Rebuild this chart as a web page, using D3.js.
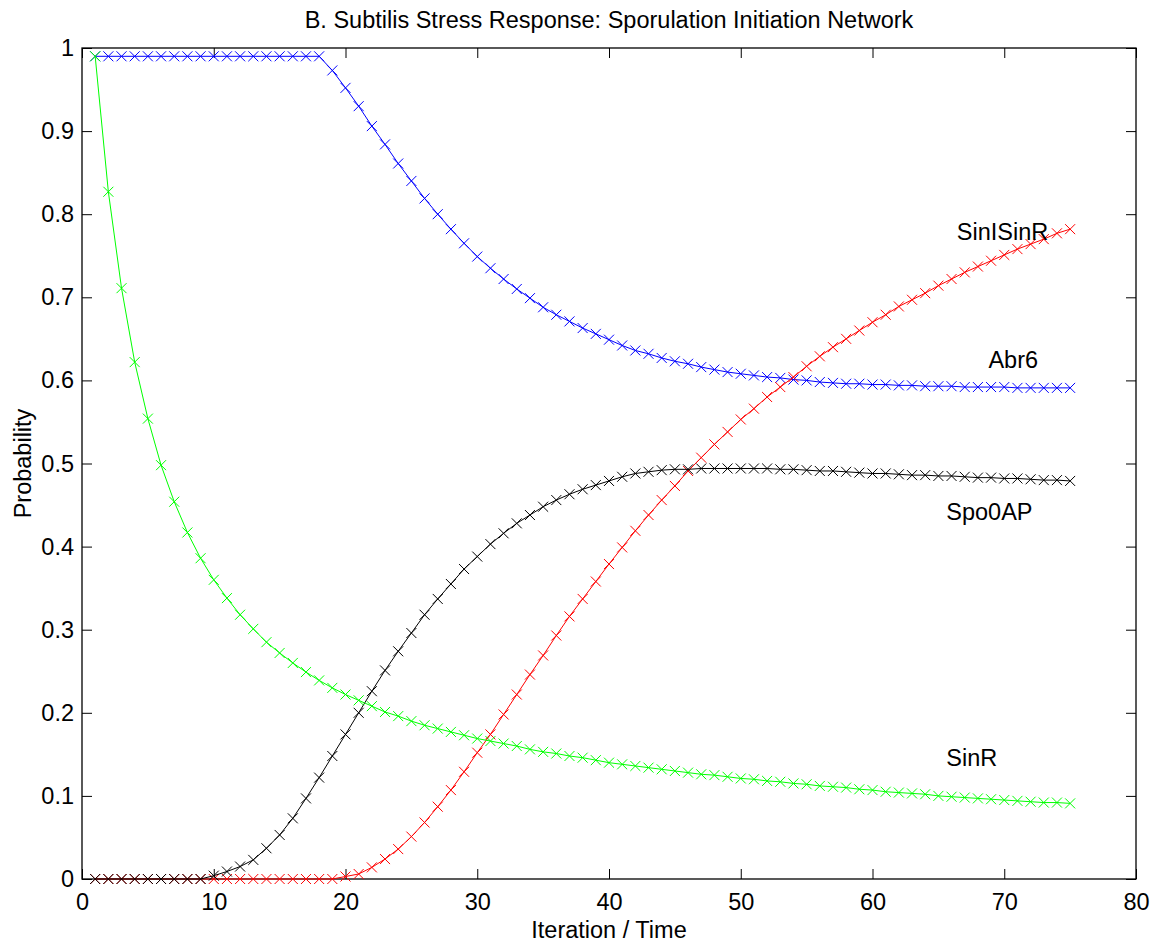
<!DOCTYPE html>
<html>
<head>
<meta charset="utf-8">
<script src="https://cdn.jsdelivr.net/npm/d3@7"></script>
<style>
  body { margin: 0; background: #fff; }
  svg text { font-family: Arial, "Liberation Sans", Helvetica, sans-serif; fill: #000; }
</style>
</head>
<body>
<div id="chart"></div>
<script>
// iterations 1..75
const iterations = d3.range(1, 76);

const abr6 = [
  0.99, 0.99, 0.99, 0.99, 0.99, 0.99, 0.99, 0.99, 0.99, 0.99,
  0.99, 0.99, 0.99, 0.99, 0.99, 0.99, 0.99, 0.99, 0.973, 0.952,
  0.930, 0.906, 0.884, 0.861, 0.840, 0.819, 0.800, 0.782, 0.765, 0.749,
  0.735, 0.722, 0.710, 0.699, 0.688, 0.679, 0.671, 0.663, 0.656, 0.649,
  0.642, 0.636, 0.632, 0.627, 0.623, 0.620, 0.616, 0.613, 0.610, 0.608,
  0.606, 0.604, 0.603, 0.601, 0.600, 0.598, 0.597, 0.596, 0.596, 0.595,
  0.595, 0.594, 0.594, 0.593, 0.593, 0.593, 0.592, 0.592, 0.592, 0.592,
  0.591, 0.591, 0.591, 0.591, 0.591
];

const sinISinR = [
  0, 0, 0, 0, 0, 0, 0, 0, 0, 0,
  0, 0, 0, 0, 0, 0, 0, 0, 0, 0.003,
  0.006, 0.014, 0.024, 0.036, 0.051, 0.068, 0.087, 0.107, 0.129, 0.152,
  0.174, 0.198, 0.222, 0.246, 0.269, 0.293, 0.316, 0.337, 0.358, 0.379,
  0.399, 0.419, 0.438, 0.456, 0.473, 0.491, 0.507, 0.523, 0.538, 0.553,
  0.566, 0.580, 0.592, 0.604, 0.617, 0.629, 0.640, 0.650, 0.660, 0.670,
  0.679, 0.689, 0.697, 0.705, 0.714, 0.722, 0.730, 0.737, 0.744, 0.751,
  0.758, 0.764, 0.770, 0.777, 0.782
];

const spo0AP = [
  0, 0, 0, 0, 0, 0, 0, 0, 0, 0.004,
  0.009, 0.015, 0.023, 0.037, 0.053, 0.073, 0.097, 0.122, 0.148, 0.174,
  0.200, 0.226, 0.251, 0.274, 0.296, 0.318, 0.337, 0.355, 0.373, 0.388,
  0.403, 0.416, 0.428, 0.438, 0.448, 0.456, 0.463, 0.469, 0.474, 0.479,
  0.484, 0.488, 0.490, 0.492, 0.493, 0.493, 0.494, 0.494, 0.494, 0.494,
  0.494, 0.494, 0.493, 0.493, 0.492, 0.491, 0.491, 0.490, 0.489, 0.488,
  0.488, 0.487, 0.486, 0.486, 0.485, 0.485, 0.484, 0.483, 0.483, 0.482,
  0.482, 0.481, 0.480, 0.480, 0.479
];

const sinR = [
  0.99, 0.827, 0.711, 0.622, 0.554, 0.498, 0.454, 0.417, 0.386, 0.360,
  0.338, 0.318, 0.301, 0.285, 0.272, 0.260, 0.249, 0.239, 0.230, 0.222,
  0.215, 0.208, 0.201, 0.196, 0.190, 0.185, 0.181, 0.177, 0.173, 0.169,
  0.166, 0.163, 0.160, 0.156, 0.153, 0.151, 0.148, 0.146, 0.143, 0.140,
  0.138, 0.136, 0.134, 0.132, 0.130, 0.128, 0.126, 0.125, 0.123, 0.121,
  0.120, 0.118, 0.117, 0.115, 0.114, 0.112, 0.111, 0.110, 0.108, 0.107,
  0.105, 0.104, 0.103, 0.102, 0.100, 0.099, 0.098, 0.097, 0.096, 0.095,
  0.094, 0.093, 0.092, 0.092, 0.091
];

const xTicks = [0, 10, 20, 30, 40, 50, 60, 70, 80];
const yTicks = [0, 0.1, 0.2, 0.3, 0.4, 0.5, 0.6, 0.7, 0.8, 0.9, 1];

// drawing order: first drawn ends up underneath
const series = [
  { name: 'Abr6', values: abr6, color: '#0000ff' },
  { name: 'SinISinR', values: sinISinR, color: '#ff0000' },
  { name: 'Spo0AP', values: spo0AP, color: '#000000' },
  { name: 'SinR', values: sinR, color: '#00ff00' }
];

// text labels placed in data coordinates
const labelNames = ['SinISinR', 'Abr6', 'Spo0AP', 'SinR'];
const labelX = [66.4, 68.8, 65.6, 65.6];
const labelY = [0.769, 0.615, 0.432, 0.136];

const width = 1155, height = 943;
const margin = { top: 48, right: 19, bottom: 64, left: 82 };
const innerW = width - margin.left - margin.right;
const innerH = height - margin.top - margin.bottom;
const fontSize = 23.5;
const tickLen = 10;

const svg = d3.select('#chart').append('svg')
  .attr('width', width)
  .attr('height', height);

const g = svg.append('g')
  .attr('transform', `translate(${margin.left},${margin.top})`);

const x = d3.scaleLinear().domain([0, 80]).range([0, innerW]);
const y = d3.scaleLinear().domain([0, 1]).range([innerH, 0]);

// axes: ticks point inward on all four sides, like a boxed plot
const fmtY = d => d === 0 || d === 1 ? String(d) : d3.format('.1f')(d);

const xBottom = g.append('g')
  .attr('transform', `translate(0,${innerH})`)
  .call(d3.axisBottom(x).tickValues(xTicks).tickSizeInner(-tickLen).tickSizeOuter(0).tickPadding(14));
const xTop = g.append('g')
  .call(d3.axisTop(x).tickValues(xTicks).tickSizeInner(-tickLen).tickSizeOuter(0).tickFormat(''));
const yLeft = g.append('g')
  .call(d3.axisLeft(y).tickValues(yTicks).tickSizeInner(-tickLen).tickSizeOuter(0).tickPadding(8).tickFormat(fmtY));
const yRight = g.append('g')
  .attr('transform', `translate(${innerW},0)`)
  .call(d3.axisRight(y).tickValues(yTicks).tickSizeInner(-tickLen).tickSizeOuter(0).tickFormat(''));

[xBottom, xTop, yLeft, yRight].forEach(ax => {
  ax.select('.domain').remove();
  ax.selectAll('line').attr('stroke', '#000').attr('stroke-width', 1);
  ax.selectAll('text')
    .style('font-size', fontSize + 'px')
    .attr('fill', '#000');
});

// box
g.append('rect')
  .attr('x', 0).attr('y', 0)
  .attr('width', innerW).attr('height', innerH)
  .attr('fill', 'none')
  .attr('stroke', '#000')
  .attr('stroke-width', 1.3);

// lines and x markers
const line = d3.line()
  .x((d, i) => x(iterations[i]))
  .y(d => y(d));

const m = 5;
series.forEach(s => {
  const sg = g.append('g').attr('class', 'series');
  sg.append('path')
    .datum(s.values)
    .attr('d', line)
    .attr('fill', 'none')
    .attr('stroke', s.color)
    .attr('stroke-width', 1);

  sg.selectAll('path.marker')
    .data(s.values)
    .join('path')
    .attr('class', 'marker')
    .attr('d', (d, i) => {
      const cx = x(iterations[i]), cy = y(d);
      return `M${cx - m},${cy - m}L${cx + m},${cy + m}M${cx - m},${cy + m}L${cx + m},${cy - m}`;
    })
    .attr('fill', 'none')
    .attr('stroke', s.color)
    .attr('stroke-width', 1);
});

// series labels
g.selectAll('text.label')
  .data(labelNames)
  .join('text')
  .attr('class', 'label')
  .attr('x', (d, i) => x(labelX[i]))
  .attr('y', (d, i) => y(labelY[i]))
  .style('font-size', fontSize + 'px')
  .text(d => d);

// title and axis titles
svg.append('text')
  .attr('x', margin.left + innerW / 2)
  .attr('y', 28)
  .attr('text-anchor', 'middle')
  .style('font-size', fontSize + 'px')
  .text('B. Subtilis Stress Response: Sporulation Initiation Network');

svg.append('text')
  .attr('x', margin.left + innerW / 2)
  .attr('y', 938)
  .attr('text-anchor', 'middle')
  .style('font-size', fontSize + 'px')
  .text('Iteration / Time');

svg.append('text')
  .attr('transform', `translate(31,${margin.top + innerH / 2}) rotate(-90)`)
  .attr('text-anchor', 'middle')
  .style('font-size', fontSize + 'px')
  .text('Probability');
</script>
</body>
</html>
